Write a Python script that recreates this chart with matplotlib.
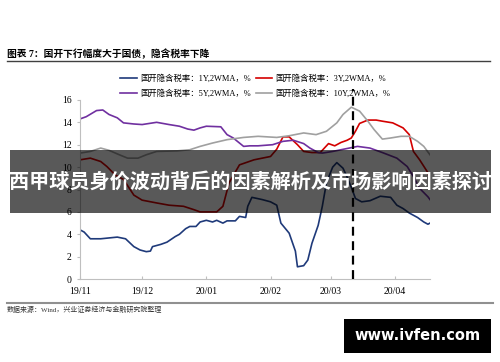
import numpy as np
import pandas as pd
import matplotlib
matplotlib.use("Agg")
import matplotlib.pyplot as plt
import matplotlib.dates as mdates
from matplotlib.lines import Line2D
from matplotlib.patches import Rectangle

# implied tax rate of CDB bonds, 2WMA, %
dates_1y = ['2019-11-01', '2019-11-03', '2019-11-06', '2019-11-11', '2019-11-19', '2019-11-23',
            '2019-11-27', '2019-11-30', '2019-12-03', '2019-12-05', '2019-12-06', '2019-12-10',
            '2019-12-13', '2019-12-17', '2019-12-19', '2019-12-22', '2019-12-24', '2019-12-27',
            '2019-12-29', '2020-01-01', '2020-01-04', '2020-01-06', '2020-01-09', '2020-01-11',
            '2020-01-15', '2020-01-17', '2020-01-20', '2020-01-21', '2020-01-23', '2020-01-28',
            '2020-02-01', '2020-02-04', '2020-02-06', '2020-02-10', '2020-02-13', '2020-02-14',
            '2020-02-17', '2020-02-19', '2020-02-21', '2020-02-24', '2020-02-26', '2020-02-28',
            '2020-03-02', '2020-03-04', '2020-03-07', '2020-03-09', '2020-03-11', '2020-03-13',
            '2020-03-16', '2020-03-20', '2020-03-25', '2020-03-30', '2020-04-02', '2020-04-05',
            '2020-04-08', '2020-04-12', '2020-04-15', '2020-04-17', '2020-04-18']
vals_1y = [4.4, 4.2, 3.6, 3.6, 3.75, 3.6, 2.9, 2.6, 2.45, 2.5, 2.9, 3.1,
           3.3, 3.8, 4.0, 4.5, 4.7, 4.7, 5.1, 5.25, 5.1, 5.25, 5.0, 5.2,
           5.2, 5.6, 5.5, 6.5, 7.3, 7.1, 6.9, 6.6, 5.0, 4.1, 2.5, 1.1,
           1.2, 1.7, 3.2, 4.8, 6.5, 8.6, 10.0, 10.4, 9.9, 9.1, 8.2, 7.2,
           6.9, 7.0, 7.4, 7.3, 6.6, 6.3, 5.9, 5.5, 5.1, 4.9, 5.0]

dates_3y = ['2019-11-01', '2019-11-06', '2019-11-11', '2019-11-14', '2019-11-18', '2019-11-22',
            '2019-11-27', '2019-12-01', '2019-12-08', '2019-12-14', '2019-12-21', '2019-12-26',
            '2019-12-29', '2020-01-06', '2020-01-09', '2020-01-12', '2020-01-17', '2020-01-24',
            '2020-02-01', '2020-02-04', '2020-02-07', '2020-02-10', '2020-02-14', '2020-02-17',
            '2020-02-21', '2020-02-25', '2020-02-27', '2020-02-29', '2020-03-03', '2020-03-06',
            '2020-03-09', '2020-03-11', '2020-03-13', '2020-03-15', '2020-03-19', '2020-03-23',
            '2020-03-26', '2020-03-31', '2020-04-05', '2020-04-08', '2020-04-10', '2020-04-13',
            '2020-04-17', '2020-04-18']
vals_3y = [10.65, 10.8, 10.5, 10.05, 9.3, 8.9, 7.5, 7.05, 6.8, 6.6, 6.5, 6.2,
           6.0, 6.0, 6.5, 8.6, 10.2, 10.65, 10.95, 11.6, 12.7, 12.7, 12.0, 11.4,
           11.3, 11.3, 11.7, 12.1, 11.9, 12.2, 12.4, 12.6, 13.2, 13.9, 14.2, 14.2,
           14.1, 13.95, 13.5, 12.9, 11.4, 10.65, 9.5, 8.8]

dates_5y = ['2019-11-01', '2019-11-04', '2019-11-09', '2019-11-12', '2019-11-15', '2019-11-19',
            '2019-11-22', '2019-11-27', '2019-12-01', '2019-12-08', '2019-12-14', '2019-12-19',
            '2019-12-23', '2019-12-26', '2019-12-29', '2020-01-01', '2020-01-08', '2020-01-11',
            '2020-01-14', '2020-01-19', '2020-01-22', '2020-01-26', '2020-02-02', '2020-02-07',
            '2020-02-12', '2020-02-17', '2020-02-20', '2020-02-24', '2020-02-26', '2020-03-02',
            '2020-03-10', '2020-03-14', '2020-03-20', '2020-03-26', '2020-04-02', '2020-04-07',
            '2020-04-10', '2020-04-13', '2020-04-17', '2020-04-18']
vals_5y = [14.3, 14.5, 15.05, 15.1, 14.7, 14.4, 13.95, 13.85, 13.8, 14.0, 13.8, 13.65,
           13.4, 13.3, 13.5, 13.65, 13.6, 12.9, 12.6, 11.85, 11.9, 11.9, 12.0, 12.3,
           12.4, 12.1, 11.7, 11.3, 11.25, 11.4, 11.7, 11.85, 11.7, 11.3, 10.8, 10.05,
           9.15, 8.1, 7.35, 7.1]

dates_10y = ['2019-11-01', '2019-11-06', '2019-11-11', '2019-11-15', '2019-11-20', '2019-11-24',
             '2019-11-29', '2019-12-03', '2019-12-08', '2019-12-18', '2019-12-24', '2019-12-29',
             '2020-01-04', '2020-01-11', '2020-01-19', '2020-01-26', '2020-02-04', '2020-02-10',
             '2020-02-17', '2020-02-23', '2020-02-28', '2020-03-04', '2020-03-07', '2020-03-11',
             '2020-03-15', '2020-03-19', '2020-03-22', '2020-03-26', '2020-03-30', '2020-04-04',
             '2020-04-08', '2020-04-12', '2020-04-15', '2020-04-18']
vals_10y = [11.25, 11.4, 11.7, 11.5, 11.1, 10.8, 10.8, 11.1, 11.4, 11.45, 11.55, 11.85,
            12.15, 12.45, 12.65, 12.75, 12.65, 12.8, 13.05, 12.9, 13.2, 13.95, 14.7, 15.35,
            15.0, 14.1, 13.35, 12.5, 12.6, 12.75, 12.75, 12.3, 11.85, 11.1]

labels = ['国开隐含税率：1Y,2WMA，%', '国开隐含税率：3Y,2WMA，%',
          '国开隐含税率：5Y,2WMA，%', '国开隐含税率：10Y,2WMA，%']
colors = ['#1f3a7a', '#d40000', '#7030a0', '#a0a0a0']
event_date = '2020-03-12'
month_ticks = ['2019-11-01', '2019-12-01', '2020-01-01', '2020-02-01', '2020-03-01', '2020-04-01']

title = '图表 7：国开下行幅度大于国债，隐含税率下降'
source = '数据来源：Wind，兴业证券经济与金融研究院整理'
banner = '西甲球员身价波动背后的因素解析及市场影响因素探讨'
watermark = 'www.ivfen.com'

cjk = ['Liberation Serif', 'Noto Sans CJK SC', 'DejaVu Sans']
plt.rcParams['font.family'] = cjk

fig = plt.figure(figsize=(5.0, 3.62), dpi=100)
ax = fig.add_axes([0.16, 0.229, 0.70, 0.495])

series = [(dates_1y, vals_1y), (dates_3y, vals_3y), (dates_5y, vals_5y), (dates_10y, vals_10y)]
handles = []
for (d, v), lab, c in zip(series, labels, colors):
    h, = ax.plot(pd.to_datetime(d), v, color=c, lw=1.2, label=lab)
    handles.append(h)

ax.axvline(pd.Timestamp(event_date), ymin=0, ymax=1.06, color='black', lw=1.6,
           ls=(0, (4, 2.5)), clip_on=False, zorder=5)

ax.set_xlim(pd.Timestamp('2019-11-01'), pd.Timestamp('2020-04-18'))
ax.set_ylim(0, 16)
ax.set_yticks(np.arange(0, 17, 2))
ax.set_xticks(pd.to_datetime(month_ticks))
ax.xaxis.set_major_formatter(mdates.DateFormatter('%y/%m'))
ax.tick_params(axis='x', direction='in', length=2, labelsize=7, color='#bfbfbf', pad=6)
ax.tick_params(axis='y', direction='out', length=2, labelsize=7, color='#bfbfbf', pad=4)
for s in ['top', 'right']:
    ax.spines[s].set_visible(False)
for s in ['left', 'bottom']:
    ax.spines[s].set_color('#bfbfbf')

order = [0, 2, 1, 3]
fig.legend([handles[i] for i in order], [labels[i] for i in order], ncol=2,
           loc='upper left', bbox_to_anchor=(0.24, 0.794), frameon=False,
           fontsize=6, handlelength=2.0, handletextpad=0.4, columnspacing=0.6,
           labelspacing=0.75, borderpad=0, borderaxespad=0)

fig.text(0.014, 0.851, title, fontsize=7, fontweight='bold', va='center', ha='left')
fig.add_artist(Line2D([0.014, 0.98], [0.832, 0.832], color='#404040', lw=1.0,
                      transform=fig.transFigure))
fig.add_artist(Line2D([0.014, 0.986], [0.163, 0.163], color='#909090', lw=1.5,
                      transform=fig.transFigure))
fig.text(0.014, 0.145, source, fontsize=5, va='center', ha='left', color='#333333')

# translucent banner across the chart
fig.add_artist(Rectangle((0.02, 0.4116), 0.962, 0.174, transform=fig.transFigure,
                         facecolor='black', alpha=0.65, edgecolor='none', zorder=10))
fig.text(0.501, 0.50, banner, fontsize=14.5, fontweight='bold', color='white',
         ha='center', va='center', family=['Noto Sans CJK SC', 'DejaVu Sans'], zorder=11)

# watermark box
fig.add_artist(Rectangle((0.688, 0.025), 0.294, 0.094, transform=fig.transFigure,
                         facecolor='black', edgecolor='none', zorder=10))
fig.text(0.835, 0.072, watermark, fontsize=10.5, fontweight='bold', color='white',
         ha='center', va='center', family='DejaVu Sans', zorder=11)

fig.savefig('out.png', dpi=100)
